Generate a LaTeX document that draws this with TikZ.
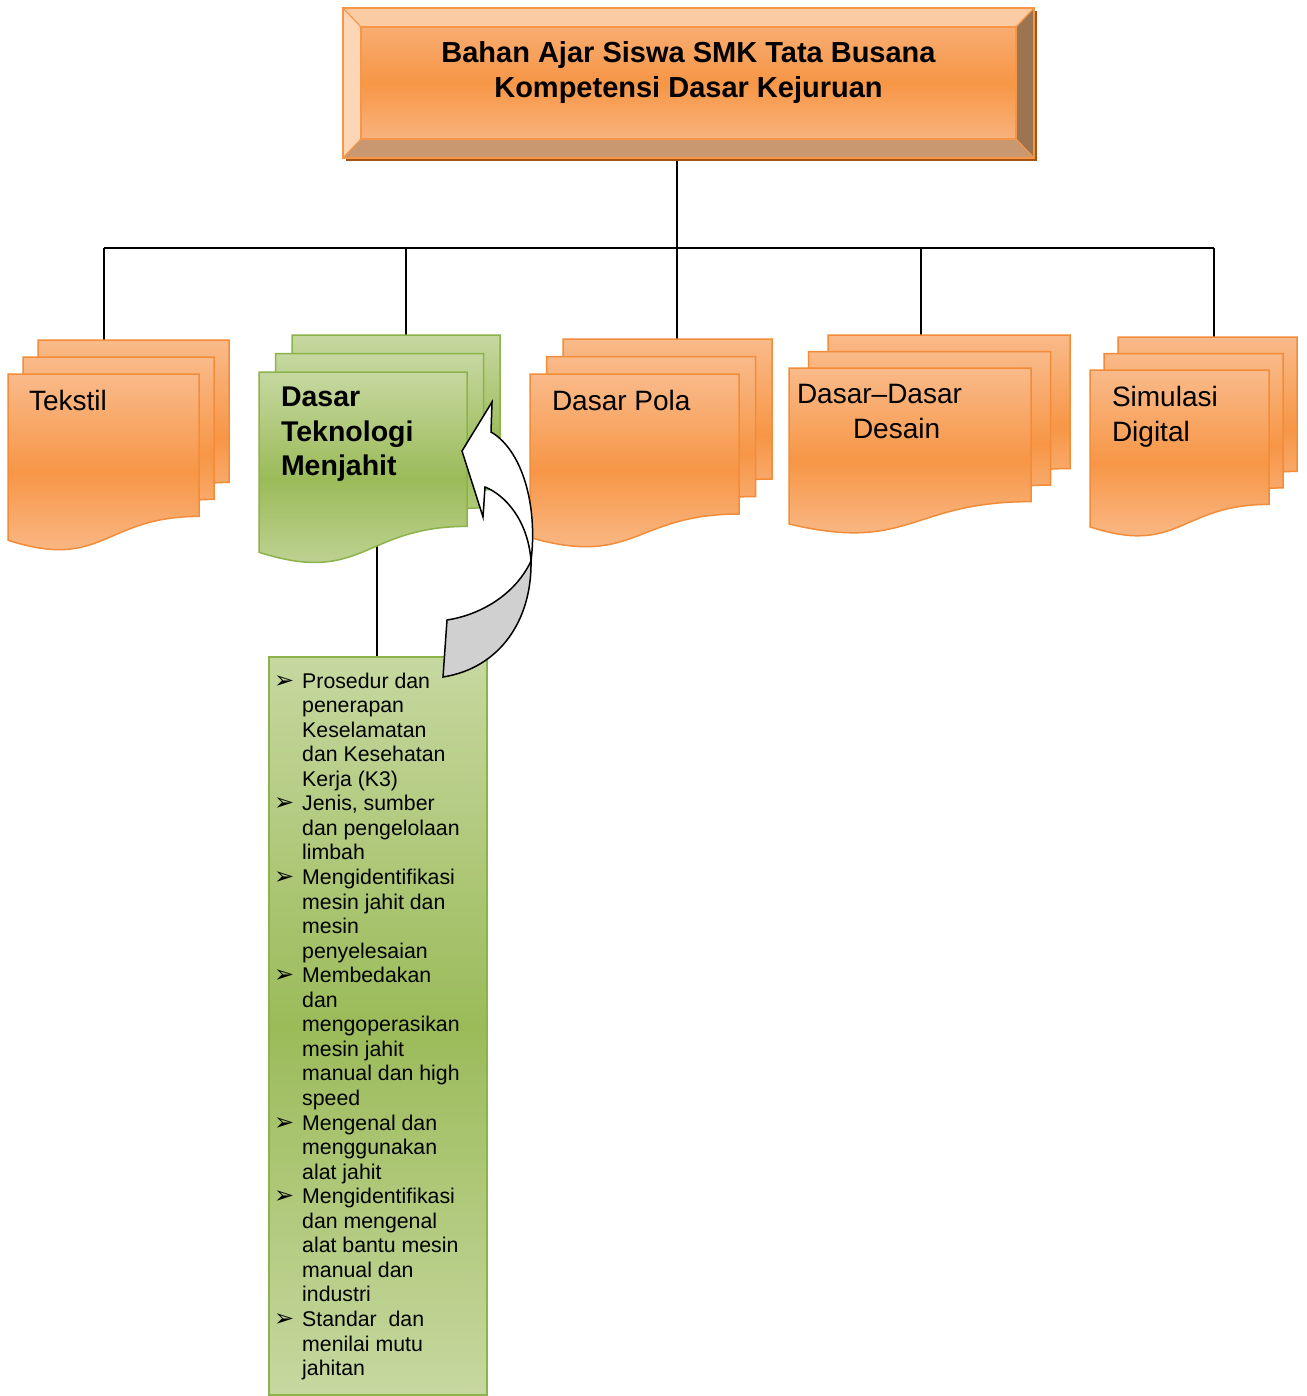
\documentclass[tikz,border=0pt]{standalone}
\usepackage{fontspec}
\setmainfont{Liberation Sans}
\newfontfamily\symfont{DejaVu Sans}
\usetikzlibrary{shadows,backgrounds}

\definecolor{orTop}{RGB}{249,186,138}
\definecolor{orMid}{RGB}{247,150,70}
\definecolor{orBot}{RGB}{250,192,148}
\definecolor{orEdge}{RGB}{242,140,56}
\definecolor{grTop}{RGB}{198,216,160}
\definecolor{grMid}{RGB}{155,187,89}
\definecolor{grEdge}{RGB}{140,178,75}
\definecolor{tFaceTop}{RGB}{248,180,128}
\definecolor{tFaceBot}{RGB}{249,188,142}
\definecolor{tBevTop}{RGB}{251,204,163}
\definecolor{tBevLeft}{RGB}{252,214,183}
\definecolor{tBevBot}{RGB}{201,152,112}
\definecolor{tBevRight}{RGB}{155,116,82}
\definecolor{tShadow}{RGB}{165,82,22}
\definecolor{twistGrey}{RGB}{208,208,208}

\tikzset{
	link/.style={draw=black, line width=1.5pt},
	orpage/.style={draw=orEdge, line width=1.5pt, top color=orTop, bottom color=orBot, middle color=orMid},
	grpage/.style={draw=grEdge, line width=1.5pt, top color=grTop, bottom color=grTop, middle color=grMid},
	stacklabel/.style={inner sep=0pt, outer sep=0pt, align=left, anchor=north west, font=\fontsize{28}{35}\selectfont},
	greenlabel/.style={stacklabel, font=\fontsize{28.5}{34.5}\selectfont\bfseries},
	titlebox/.style={minimum width=691pt, minimum height=150pt, inner sep=0pt, outer sep=0pt,
		draw=orMid, line width=1.5pt, top color=tFaceTop, bottom color=tFaceBot, middle color=orMid,
		drop shadow={shadow xshift=3pt, shadow yshift=-3pt, fill=tShadow, opacity=1}},
	titletext/.style={inner sep=0pt, align=center, anchor=north, font=\fontsize{29}{35}\selectfont\bfseries},
	tedge/.style={draw=orMid, line width=1.2pt},
	topicbox/.style={minimum width=218pt, minimum height=738pt, inner sep=0pt, outer sep=0pt, anchor=north west,
		draw=grEdge, line width=2pt, top color=grTop, bottom color=grTop, middle color=grMid},
	topictext/.style={inner sep=0pt, align=left, anchor=north west, font=\fontsize{21.3}{24.55}\selectfont},
	ribbon/.style={draw=black, fill=white, line width=1.5pt, line join=miter},
	twist/.style={ribbon, fill=twistGrey}
}

% stack of three pages: name, x, y (front page top left), width, height, dx, dy, style
\newcommand{\docstack}[8]{
	\foreach \k in {2,1,0}{
		\pgfmathsetmacro{\px}{#2+\k*#6}
		\pgfmathsetmacro{\py}{#3-\k*#7}
		\path[#8] (\px,\py) -- ({\px+#4},\py) -- ({\px+#4},{\py+0.8*#5})
			.. controls ({\px+0.5*#4},{\py+0.8*#5}) and ({\px+0.5*#4},{\py+1.107*#5}) .. (\px,{\py+0.934*#5}) -- cycle;
	}
	\coordinate (#1-nw) at ({#2+2*#6},{#3-2*#7});
	\coordinate (#1-sw) at (#2,{#3+#5});
}

\newcommand{\bul}{\llap{{\symfont\fontsize{24}{24}\selectfont ➢}\hspace{8pt}}}

\begin{document}
\begin{tikzpicture}[x=1pt, y=-1pt]
	\useasboundingbox (0,0) rectangle (1306,1396);

	% title box
	\node[titlebox] (title) at (688.5,83) {};
	\fill[tBevTop] (title.north west) -- (title.north east) -- ([shift={(-18,19)}]title.north east) -- ([shift={(18,19)}]title.north west) -- cycle;
	\fill[tBevLeft] (title.north west) -- ([shift={(18,19)}]title.north west) -- ([shift={(18,-19)}]title.south west) -- (title.south west) -- cycle;
	\fill[tBevBot] (title.south west) -- ([shift={(18,-19)}]title.south west) -- ([shift={(-18,-19)}]title.south east) -- (title.south east) -- cycle;
	\fill[tBevRight] (title.north east) -- ([shift={(-18,19)}]title.north east) -- ([shift={(-18,-19)}]title.south east) -- (title.south east) -- cycle;
	\draw[tedge] (title.north west) rectangle (title.south east);
	\draw[tedge] ([shift={(18,19)}]title.north west) rectangle ([shift={(-18,-19)}]title.south east);
	\draw[tedge] (title.north west) -- ++(18,19);
	\draw[tedge] (title.north east) -- ++(-18,19);
	\draw[tedge] (title.south west) -- ++(18,-19);
	\draw[tedge] (title.south east) -- ++(-18,-19);
	\node[titletext] (titletext) at ([yshift=-33.5pt]title.north) {Bahan Ajar Siswa SMK Tata Busana\\Kompetensi Dasar Kejuruan};

	% the five subjects
	\docstack{tekstil}{8}{374}{191}{178}{15}{17}{orpage}
	\docstack{dtm}{259}{372}{208}{193}{16.5}{18.5}{grpage}
	\docstack{pola}{530}{374}{209}{175}{16.5}{17.5}{orpage}
	\docstack{desain}{789}{368}{242}{167}{19.5}{16.5}{orpage}
	\docstack{simdig}{1090}{370}{179}{168}{14}{16.5}{orpage}

	\node[stacklabel] (tekstil) at (29,390) {Tekstil};
	\node[greenlabel] (dtmlabel) at (281,387) {Dasar\\Teknologi\\Menjahit};
	\node[stacklabel] (pola) at (552,390) {Dasar Pola};
	\node[stacklabel] (desain) at (797,384) {Dasar–Dasar\\\hspace*{56pt}Desain};
	\node[stacklabel] (simdig) at (1112,386) {Simulasi\\Digital};

	% topics of Dasar Teknologi Menjahit
	\node[topicbox] (topics) at (269,657) {};
	\node[topictext] (topictext) at (302,672.5) {\bul Prosedur dan\\penerapan\\Keselamatan\\dan Kesehatan\\Kerja (K3)\\\bul Jenis, sumber\\dan pengelolaan\\limbah\\\bul Mengidentifikasi\\mesin jahit dan\\mesin\\penyelesaian\\\bul Membedakan\\dan\\mengoperasikan\\mesin jahit\\manual dan high\\speed\\\bul Mengenal dan\\menggunakan\\alat jahit\\\bul Mengidentifikasi\\dan mengenal\\alat bantu mesin\\manual dan\\industri\\\bul Standar~ dan\\menilai mutu\\jahitan};

	% curved arrow
	\filldraw[twist] (531,561) .. controls (532,620) and (500,668) .. (443,677) -- (447,620)
		.. controls (480,615) and (515,595) .. (531,561) -- cycle;
	\filldraw[ribbon] (492,402) -- (491,432) .. controls (522,450) and (538,505) .. (531,561)
		.. controls (528,520) and (505,495) .. (485,487) -- (483,517) -- (462,451) -- cycle;

	% connectors
	\foreach \name/\xx in {tekstil/104, dtm/406, pola/677, desain/921, simdig/1214}
		{\coordinate (\name-drop) at (\xx,248);}
	\begin{scope}[on background layer]
		\fill[white] (0,0) rectangle (1306,1396);
		\draw[link] (title.south -| pola-drop) -- (pola-drop);
		\draw[link] (tekstil-drop) -- (simdig-drop);
		\foreach \name in {tekstil, dtm, pola, desain, simdig}
			{\draw[link] (\name-drop) -- (\name-drop |- \name-nw);}
		\draw[link] (topics.north -| 377,0) -- (377,0 |- dtm-nw);
	\end{scope}

\end{tikzpicture}
\end{document}
